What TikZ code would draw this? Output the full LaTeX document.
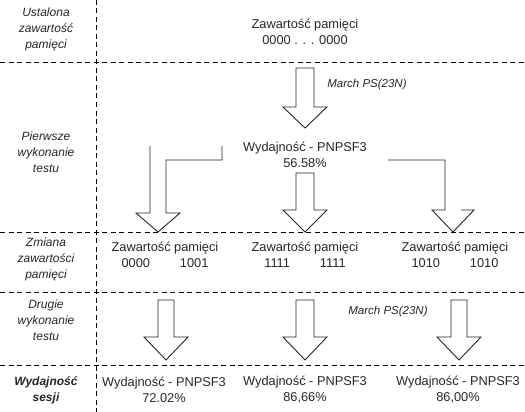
\documentclass[tikz,border=0pt]{standalone}
\usepackage{fontspec}
\setmainfont{Liberation Sans}
\begin{document}
\begin{tikzpicture}[x=1pt, y=-1pt, line join=miter,
    kreska/.style={black, line width=0.9pt, dash pattern=on 5pt off 3.5pt},
    blok/.style={black!85, line width=0.9pt},
    etykieta/.style={font=\fontsize{12}{16}\selectfont\itshape, align=center, text=black!85, inner sep=0pt},
    tekst/.style={font=\fontsize{12.8}{16}\selectfont, align=center, text=black!85, inner sep=0pt}]

        \useasboundingbox (0,0) rectangle (525,412);

        % Linie podziału
        \draw[kreska] (96,0) -- (96,412);
        \draw[kreska] (0,62) -- (525,62);
        \draw[kreska] (0,232) -- (525,232);
        \draw[kreska] (0,292) -- (525,292);
        \draw[kreska] (0,365) -- (525,365);

        % Opisy etapów
        \node[etykieta] (e1) at (46,29) {Ustalona\\zawartość\\pamięci};
        \node[etykieta] (e2) at (46,152) {Pierwsze\\wykonanie\\testu};
        \node[etykieta] (e3) at (46,259) {Zmiana\\zawartości\\pamięci};
        \node[etykieta] (e4) at (46,320) {Drugie\\wykonanie\\testu};
        \node[etykieta, font=\fontsize{12}{16}\selectfont\bfseries\itshape] (e5) at (46,390) {Wydajność\\sesji};

        % Zawartość początkowa
        \node[tekst] (start) at (305,32) {Zawartość pamięci\\0000 . . . 0000};

        % Pierwsze wykonanie
        \draw[blok] (296,68) -- (314,68) -- (314,107) -- (327,107) -- (305,128) -- (283,107) -- (296,107) -- cycle;
        \node[etykieta, font=\fontsize{11.5}{14}\selectfont\itshape] (march1) at (367,85) {March PS(23N)};
        \node[tekst] (wyd1) at (305,155) {Wydajność - PNPSF3\\56.58\%};

        % Rozgałęzienie
        \draw[blok] (222,146) -- (222,160) -- (166,160) -- (166,213) -- (180,213) -- (158,232) -- (136,213) -- (150,213) -- (150,146);
        \draw[blok] (296,173) -- (314,173) -- (314,210) -- (327,210) -- (305,232) -- (283,210) -- (296,210) -- cycle;
        \draw[blok] (388,160) -- (445,160) -- (445,210) -- (432,210) -- (453,232) -- (474,210) -- (461,210);

        % Zmienione zawartości
        \node[tekst] (z1) at (165,255) {Zawartość pamięci\\0000\hspace{30pt}1001};
        \node[tekst] (z2) at (305,255) {Zawartość pamięci\\1111\hspace{30pt}1111};
        \node[tekst] (z3) at (455,255) {Zawartość pamięci\\1010\hspace{30pt}1010};

        % Drugie wykonanie
        \draw[blok] (158,300) -- (174,300) -- (174,337) -- (188,337) -- (166,360) -- (144,337) -- (158,337) -- cycle;
        \draw[blok] (296,300) -- (314,300) -- (314,337) -- (327,337) -- (305,360) -- (283,337) -- (296,337) -- cycle;
        \draw[blok] (451,300) -- (467,300) -- (467,337) -- (481,337) -- (459,360) -- (437,337) -- (451,337) -- cycle;
        \node[etykieta, font=\fontsize{11.5}{14}\selectfont\itshape] (march2) at (388,312) {March PS(23N)};

        % Wyniki
        \node[tekst] (w1) at (164,390) {Wydajność - PNPSF3\\72.02\%};
        \node[tekst] (w2) at (305,390) {Wydajność - PNPSF3\\86,66\%};
        \node[tekst] (w3) at (458,390) {Wydajność - PNPSF3\\86,00\%};
    \end{tikzpicture}
\end{document}
